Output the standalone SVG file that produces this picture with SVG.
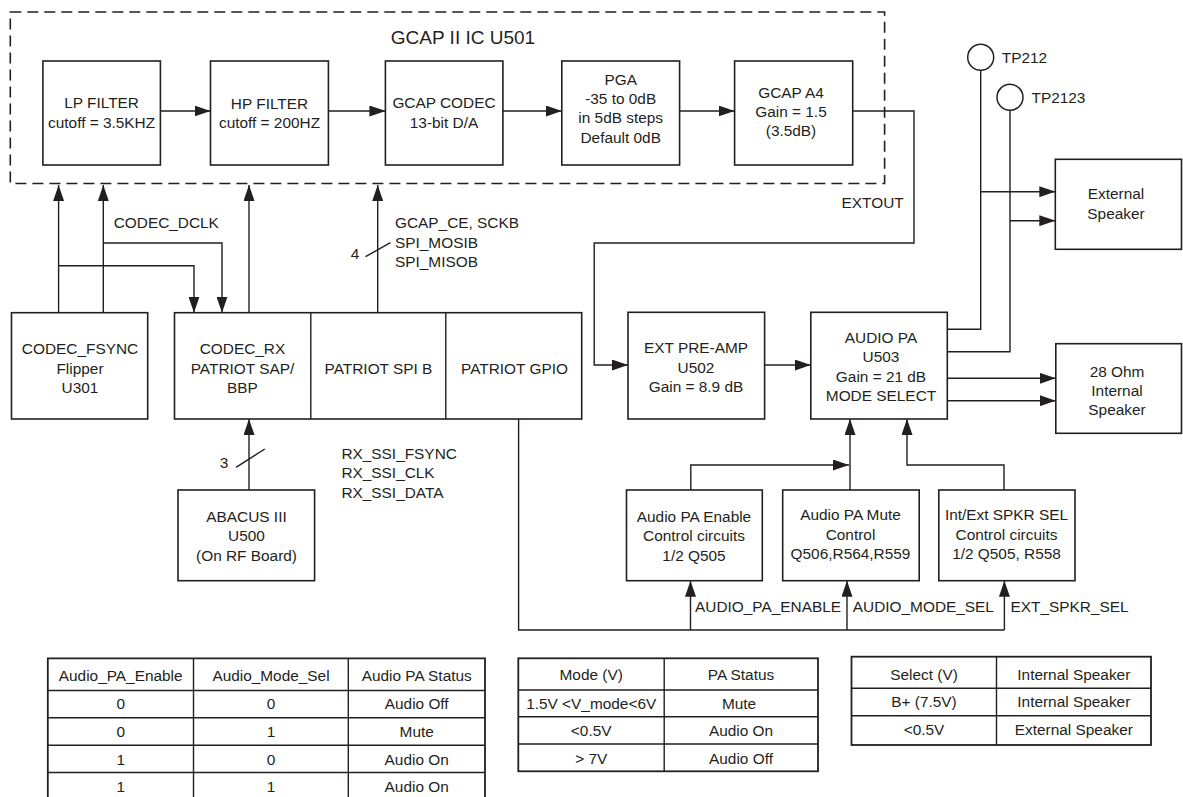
<svg xmlns="http://www.w3.org/2000/svg" width="1183" height="797" viewBox="0 0 1183 797">
<defs>
<style>
text{font-family:"Liberation Sans",Arial,sans-serif;font-size:15.4px;fill:#231f20}
.c{text-anchor:middle}
.box{fill:#fff;stroke:#231f20;stroke-width:1.6}
.ln{fill:none;stroke:#231f20;stroke-width:1.4}
.arr{fill:none;stroke:#231f20;stroke-width:1.4;marker-end:url(#ah)}
.tb{fill:none;stroke:#231f20;stroke-width:1.8}
.tl{stroke:#231f20;stroke-width:1.4}
</style>
<marker id="ah" markerUnits="userSpaceOnUse" markerWidth="16" markerHeight="11" refX="16" refY="5.5" orient="auto"><path d="M0,0 L16,5.5 L0,11 z" fill="#231f20"/></marker>
</defs>
<rect width="1183" height="797" fill="#fff"/>

<g id="gcap-ic">
<rect x="10.3" y="12" width="874.3" height="171.5" fill="none" stroke="#231f20" stroke-width="1.6" stroke-dasharray="11 6"/>
<text x="463" y="43.7" class="c" style="font-size:19px">GCAP II IC U501</text>
</g>

<g id="lp-filter"><rect class="box" x="42.9" y="61" width="117.5" height="104"/>
<text x="101.6" y="107.5" class="c">LP FILTER</text><text x="101.6" y="127.5" class="c">cutoff = 3.5KHZ</text></g>
<g id="hp-filter"><rect class="box" x="210.5" y="61" width="117.9" height="104"/>
<text x="269.5" y="108.5" class="c">HP FILTER</text><text x="269.5" y="127.5" class="c">cutoff = 200HZ</text></g>
<g id="gcap-codec"><rect class="box" x="385.4" y="61" width="117.5" height="104"/>
<text x="444" y="107.5" class="c">GCAP CODEC</text><text x="444" y="127.5" class="c">13-bit D/A</text></g>
<g id="pga"><rect class="box" x="561.8" y="61" width="117.8" height="104"/>
<text x="620.7" y="84.6" class="c">PGA</text><text x="620.7" y="104" class="c">-35 to 0dB</text><text x="620.7" y="123" class="c">in 5dB steps</text><text x="620.7" y="142.6" class="c">Default 0dB</text></g>
<g id="gcap-a4"><rect class="box" x="734.6" y="61" width="118.1" height="104"/>
<text x="791" y="98" class="c">GCAP A4</text><text x="791" y="117" class="c">Gain = 1.5</text><text x="791" y="136.3" class="c">(3.5dB)</text></g>

<g id="tp212"><circle cx="980.7" cy="57.3" r="13" fill="#fff" stroke="#231f20" stroke-width="1.5"/><text x="1001.8" y="62.7">TP212</text></g>
<g id="tp2123"><circle cx="1010" cy="97.3" r="13" fill="#fff" stroke="#231f20" stroke-width="1.5"/><text x="1031.5" y="103.4">TP2123</text></g>

<g id="ext-speaker"><rect class="box" x="1055.3" y="159.3" width="126.2" height="90"/>
<text x="1116" y="199.3" class="c">External</text><text x="1116" y="218.6" class="c">Speaker</text></g>

<g id="codec-fsync"><rect class="box" x="11.5" y="312.7" width="136.2" height="106.3"/>
<text x="80" y="354.3" class="c">CODEC_FSYNC</text><text x="80" y="373.6" class="c">Flipper</text><text x="80" y="392.6" class="c">U301</text></g>

<g id="patriot"><rect class="box" x="174.5" y="312.7" width="407.2" height="106.3"/>
<line class="ln" x1="310.8" y1="312.7" x2="310.8" y2="419"/><line class="ln" x1="445.8" y1="312.7" x2="445.8" y2="419"/>
<text x="242.5" y="354.3" class="c">CODEC_RX</text><text x="242.5" y="373.6" class="c">PATRIOT SAP/</text><text x="242.5" y="392.6" class="c">BBP</text>
<text x="378.5" y="373.6" class="c">PATRIOT SPI B</text>
<text x="514.5" y="373.6" class="c">PATRIOT GPIO</text></g>

<g id="abacus"><rect class="box" x="178" y="490" width="136.6" height="90.7"/>
<text x="246.5" y="522" class="c">ABACUS III</text><text x="246.5" y="541" class="c">U500</text><text x="246.5" y="561" class="c">(On RF Board)</text></g>

<g id="ext-preamp"><rect class="box" x="628" y="312.3" width="136.6" height="106.7"/>
<text x="696" y="353" class="c">EXT PRE-AMP</text><text x="696" y="373" class="c">U502</text><text x="696" y="392" class="c">Gain = 8.9 dB</text></g>

<g id="audio-pa"><rect class="box" x="810.8" y="312.3" width="136.5" height="106.7"/>
<text x="881" y="343" class="c">AUDIO PA</text><text x="881" y="362.3" class="c">U503</text><text x="881" y="382" class="c">Gain = 21 dB</text><text x="881" y="401" class="c">MODE SELECT</text></g>

<g id="int-speaker"><rect class="box" x="1055.8" y="343.7" width="125.7" height="89.6"/>
<text x="1117" y="377" class="c">28 Ohm</text><text x="1117" y="396" class="c">Internal</text><text x="1117" y="415.3" class="c">Speaker</text></g>

<g id="pa-enable"><rect class="box" x="626.5" y="490" width="135.8" height="90.7"/>
<text x="694" y="522" class="c">Audio PA Enable</text><text x="694" y="541.3" class="c">Control circuits</text><text x="694" y="561" class="c">1/2 Q505</text></g>
<g id="pa-mute"><rect class="box" x="782.7" y="490" width="136.5" height="90.7"/>
<text x="850.5" y="520.3" class="c">Audio PA Mute</text><text x="850.5" y="540.3" class="c">Control</text><text x="850.5" y="559.3" class="c">Q506,R564,R559</text></g>
<g id="spkr-sel"><rect class="box" x="938.8" y="490" width="136.2" height="90.7"/>
<text x="1006.5" y="520.3" class="c">Int/Ext SPKR SEL</text><text x="1006.5" y="540" class="c">Control circuits</text><text x="1006.5" y="559.3" class="c">1/2 Q505, R558</text></g>

<g id="connectors">
<path class="arr" d="M160.4,111 H210.5"/>
<path class="arr" d="M328.4,111 H385.4"/>
<path class="arr" d="M502.9,111 H561.8"/>
<path class="arr" d="M679.6,111 H734.6"/>
<path class="arr" d="M58.6,312.7 V185"/>
<path class="arr" d="M103.3,312.7 V185"/>
<path class="arr" d="M249,312.7 V185"/>
<path class="arr" d="M377.7,312.7 V185"/>
<path class="arr" d="M103.3,243 H222 V312.7"/>
<path class="arr" d="M58.6,265.7 H194 V312.7"/>
<path class="ln" d="M365.5,256.7 L390.4,242.7"/>
<path class="arr" d="M249,490 V419"/>
<path class="ln" d="M236,467.3 L264.8,449"/>
<path class="arr" d="M852.7,111 H914 V243 H594.2 V365 H628"/>
<path class="arr" d="M764.6,365 H810.8"/>
<path class="ln" d="M980.7,70.3 V329.3 H947.3"/>
<path class="ln" d="M1010,110.3 V351.7 H947.3"/>
<path class="arr" d="M980.7,191.7 H1055.3"/>
<path class="arr" d="M1010,220.7 H1055.3"/>
<path class="arr" d="M947.3,378.3 H1055.8"/>
<path class="arr" d="M947.3,400.7 H1055.8"/>
<path class="arr" d="M850,490 V419"/>
<path class="arr" d="M690.8,490 V465 H849"/>
<path class="arr" d="M1004,490 V465 H907 V419"/>
<path class="ln" d="M518.6,419 V630 H1004.4"/>
<path class="arr" d="M690.5,630 V580.7"/>
<path class="arr" d="M847,630 V580.7"/>
<path class="arr" d="M1004.4,630 V580.7"/>
</g>

<g id="labels">
<text x="113.7" y="228.4">CODEC_DCLK</text>
<text x="395" y="228.4">GCAP_CE, SCKB</text>
<text x="395" y="248.4">SPI_MOSIB</text>
<text x="395" y="267.4">SPI_MISOB</text>
<text x="355" y="259.4" class="c">4</text>
<text x="224" y="468" class="c">3</text>
<text x="341.4" y="459">RX_SSI_FSYNC</text>
<text x="341.4" y="478">RX_SSI_CLK</text>
<text x="341.4" y="497.6">RX_SSI_DATA</text>
<text x="841.6" y="207.8">EXTOUT</text>
<text x="695" y="612">AUDIO_PA_ENABLE</text>
<text x="852.8" y="612">AUDIO_MODE_SEL</text>
<text x="1010.5" y="612">EXT_SPKR_SEL</text>
</g>

<g id="table-pa-status">
<path class="tb" d="M47.8,800 V658.3 H485 V800"/>
<path class="tl" d="M47.8,690.5 H485 M47.8,717.8 H485 M47.8,745.3 H485 M47.8,772.5 H485 M193.5,658.3 V800 M348.3,658.3 V800"/>
<text x="120.7" y="681" class="c">Audio_PA_Enable</text><text x="271" y="681" class="c">Audio_Mode_Sel</text><text x="416.7" y="681" class="c">Audio PA Status</text>
<text x="120.7" y="709.3" class="c">0</text><text x="271" y="709.3" class="c">0</text><text x="416.7" y="709.3" class="c">Audio Off</text>
<text x="120.7" y="737" class="c">0</text><text x="271" y="737" class="c">1</text><text x="416.7" y="737" class="c">Mute</text>
<text x="120.7" y="764.6" class="c">1</text><text x="271" y="764.6" class="c">0</text><text x="416.7" y="764.6" class="c">Audio On</text>
<text x="120.7" y="792" class="c">1</text><text x="271" y="792" class="c">1</text><text x="416.7" y="792" class="c">Audio On</text>
</g>

<g id="table-mode">
<rect class="tb" x="518.3" y="658.3" width="299.7" height="113"/>
<path class="tl" d="M518.3,690 H818 M518.3,716.7 H818 M518.3,744 H818 M664.2,658.3 V771.3"/>
<text x="591.2" y="680.3" class="c">Mode (V)</text><text x="741" y="680.3" class="c">PA Status</text>
<text x="591.2" y="708.6" class="c">1.5V &lt;V_mode&lt;6V</text><text x="739" y="708.6" class="c">Mute</text>
<text x="591.2" y="736" class="c">&lt;0.5V</text><text x="741" y="736" class="c">Audio On</text>
<text x="591.2" y="763.6" class="c">&gt; 7V</text><text x="741" y="763.6" class="c">Audio Off</text>
</g>

<g id="table-select">
<rect class="tb" x="851.5" y="656.7" width="299.5" height="88.3"/>
<path class="tl" d="M851.5,688.3 H1151 M851.5,715.7 H1151 M996.5,656.7 V745"/>
<text x="924" y="679.6" class="c">Select (V)</text><text x="1073.8" y="679.6" class="c">Internal Speaker</text>
<text x="924" y="707.3" class="c">B+ (7.5V)</text><text x="1073.8" y="707.3" class="c">Internal Speaker</text>
<text x="924" y="734.6" class="c">&lt;0.5V</text><text x="1073.8" y="734.6" class="c">External Speaker</text>
</g>
</svg>
